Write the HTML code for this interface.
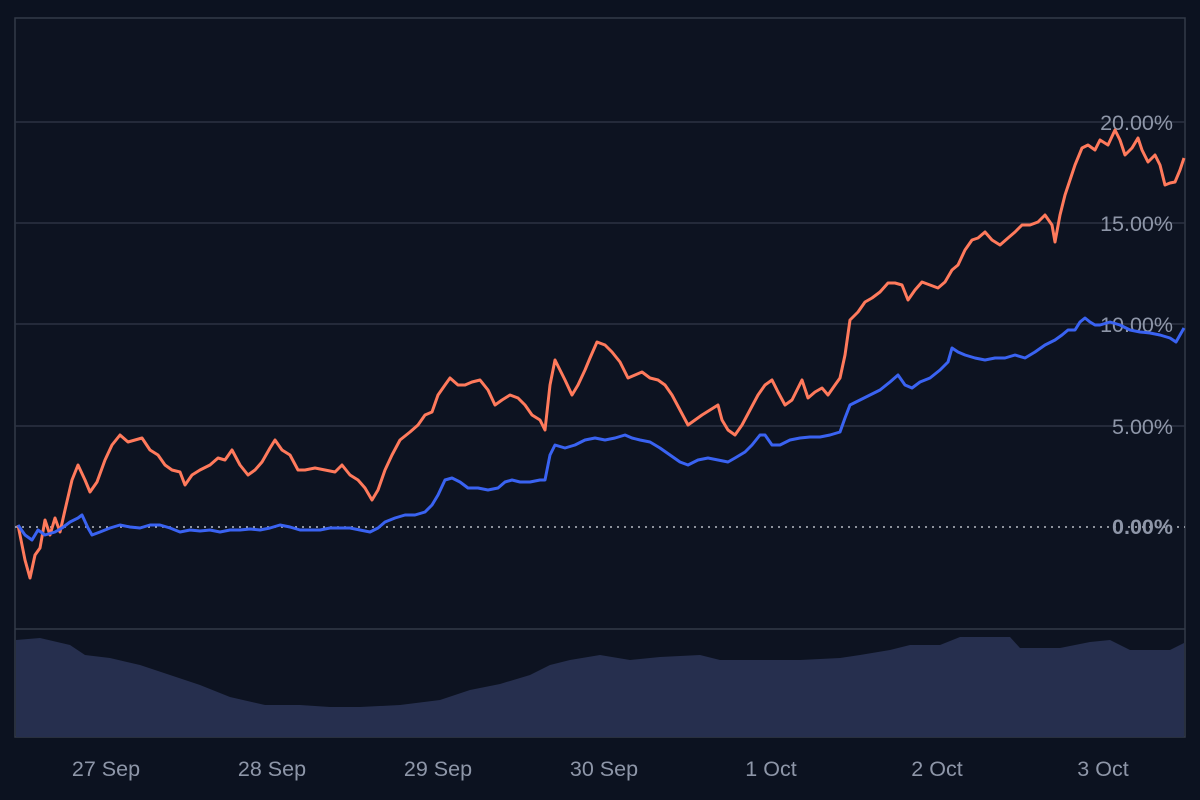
<!DOCTYPE html>
<html><head><meta charset="utf-8"><style>
html,body{margin:0;padding:0;background:#0c1220;}
svg{display:block;font-family:"Liberation Sans",sans-serif;}
</style></head><body>
<svg width="1200" height="800" viewBox="0 0 1200 800" xmlns="http://www.w3.org/2000/svg">
<rect width="1200" height="800" fill="#0c1220"/>
<rect x="15" y="18" width="1170" height="719" fill="#0d1321" stroke="#333a48" stroke-width="1.5"/>
<g stroke="#2c3342" stroke-width="1.5">
<line x1="15" y1="122" x2="1185" y2="122"/>
<line x1="15" y1="223" x2="1185" y2="223"/>
<line x1="15" y1="324" x2="1185" y2="324"/>
<line x1="15" y1="426" x2="1185" y2="426"/>
<line x1="15" y1="629" x2="1185" y2="629" stroke="#333a48"/>
</g>
<line x1="15" y1="527" x2="1185" y2="527" stroke="#b8bcc6" stroke-width="1.5" stroke-dasharray="2,5"/>
<polygon fill="#262f4e" points="16,737 16,640 40,638 70,645 85,655 110,658 140,665 170,675 200,685 230,697 265,705 300,705 330,707 360,707 400,705 440,700 470,690 500,684 530,675 550,665 570,660 600,655 630,660 660,657 700,655 720,660 760,660 800,660 840,658 860,655 890,650 910,645 940,645 960,637 1010,637 1020,648 1060,648 1090,642 1110,640 1130,650 1170,650 1184,643 1184,737"/>
<g fill="#8e96a8" font-size="21.5" text-anchor="end">
<text x="1173" y="130">20.00%</text>
<text x="1173" y="231">15.00%</text>
<text x="1173" y="332">10.00%</text>
<text x="1173" y="434">5.00%</text>
<text x="1173" y="534" font-weight="bold">0.00%</text>
</g>
<polyline fill="none" stroke="#ff7a5c" stroke-width="3" stroke-linejoin="round" points="18,525 25,560 30,578 35,555 40,548 45,520 50,535 55,518 60,532 65,510 72,480 78,465 85,480 90,492 97,482 105,460 112,445 120,435 128,442 135,440 142,438 150,450 158,455 165,465 172,470 180,472 185,485 192,475 200,470 210,465 218,458 225,460 232,450 240,465 248,475 255,470 262,462 270,448 275,440 282,450 290,455 298,470 305,470 315,468 325,470 335,472 342,465 350,475 358,480 365,488 372,500 378,490 385,470 392,455 400,440 410,432 418,425 425,415 432,412 438,395 445,385 450,378 458,385 465,385 472,382 480,380 488,390 495,405 502,400 510,395 518,398 525,405 532,415 540,420 545,430 550,385 555,360 560,370 565,380 572,395 578,385 585,370 590,358 597,342 605,345 612,352 620,362 628,378 635,375 642,372 650,378 658,380 665,385 672,395 680,410 688,425 695,420 702,415 710,410 718,405 722,420 728,430 735,435 742,425 750,410 758,395 765,385 772,380 778,392 785,405 792,400 798,388 802,380 808,398 815,392 822,388 828,395 835,385 840,378 845,355 850,320 858,312 865,302 872,298 880,292 888,283 895,283 902,285 908,300 915,290 922,282 930,285 938,288 945,282 952,270 958,265 965,250 972,240 978,238 985,232 992,240 1000,245 1008,238 1015,232 1022,225 1030,225 1038,222 1045,215 1052,225 1055,242 1060,215 1065,195 1070,180 1075,165 1082,148 1088,145 1095,150 1100,140 1108,145 1115,130 1120,140 1125,155 1132,148 1138,138 1142,150 1148,162 1155,155 1160,165 1165,185 1170,183 1175,182 1180,170 1184,158"/>
<polyline fill="none" stroke="#3a63f2" stroke-width="3" stroke-linejoin="round" points="18,525 25,535 32,540 38,530 45,535 55,532 62,528 70,522 78,518 82,515 88,528 92,535 100,532 110,528 120,525 130,527 140,528 150,525 160,525 170,528 180,532 190,530 200,531 210,530 220,532 230,530 240,530 250,529 260,530 270,528 280,525 290,527 300,530 310,530 320,530 330,528 340,528 350,528 360,530 370,532 378,528 385,522 395,518 405,515 415,515 425,512 432,505 438,495 445,480 452,478 460,482 468,488 478,488 488,490 498,488 505,482 512,480 520,482 530,482 540,480 545,480 550,455 555,445 565,448 575,445 585,440 595,438 605,440 615,438 625,435 632,438 640,440 650,442 660,448 670,455 680,462 688,465 698,460 708,458 718,460 728,462 735,458 745,452 752,445 760,435 765,435 772,445 780,445 790,440 800,438 810,437 820,437 830,435 840,432 845,418 850,405 860,400 870,395 880,390 890,382 898,375 905,385 912,388 920,382 930,378 940,370 948,362 952,348 958,352 965,355 975,358 985,360 995,358 1005,358 1015,355 1025,358 1035,352 1045,345 1055,340 1062,335 1068,330 1075,330 1080,322 1085,318 1090,322 1095,325 1100,325 1110,322 1120,325 1130,330 1140,332 1150,333 1160,335 1170,338 1176,342 1180,335 1184,328"/>
<g fill="#8e96a8" font-size="21.5" text-anchor="middle">
<text x="106" y="776">27 Sep</text>
<text x="272" y="776">28 Sep</text>
<text x="438" y="776">29 Sep</text>
<text x="604" y="776">30 Sep</text>
<text x="771" y="776">1 Oct</text>
<text x="937" y="776">2 Oct</text>
<text x="1103" y="776">3 Oct</text>
</g>
</svg>
</body></html>
